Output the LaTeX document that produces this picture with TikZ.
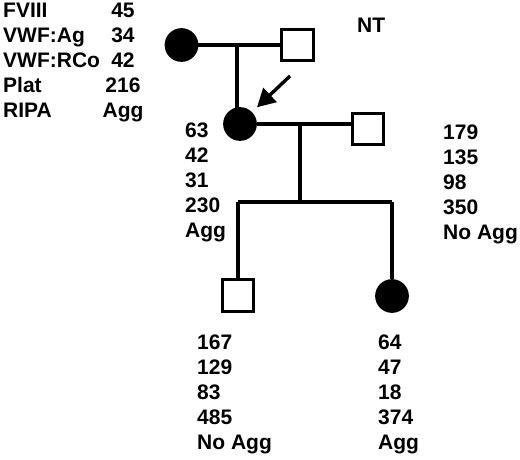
\documentclass[tikz,border=0pt]{standalone}
\usepackage{fontspec}
\setmainfont{Liberation Sans}
\usepackage{tikz}
\usetikzlibrary{arrows.meta, positioning}
\tikzset{
  female/.style={
    circle, draw=black, fill=black, line width=3.2pt,
    minimum size=30.5pt, inner sep=0pt
  },
  male/.style={
    rectangle, draw=black, fill=white, line width=3.2pt,
    minimum size=31.5pt, inner sep=0pt
  },
  line/.style={line width=3.2pt, color=black},
  pointer/.style={-{Triangle[length=18pt,width=19pt]}, line width=3.4pt, shorten >=7pt},
  values/.style={
    inner sep=0pt, align=left,
    font=\fontsize{21}{25}\selectfont\bfseries
  }
}
\begin{document}
\begin{tikzpicture}[x=1pt, y=-1pt]
  \useasboundingbox (0,0) rectangle (520,459);

  % first generation
  \node[female] (gm) at (181.5,45) {};
  \node[male] (gf) at (297.5,45) {};
  \coordinate (gdrop) at (237,45);

  % proband and spouse
  \node[female] (pb) at (240,124) {};
  \node[male] (hb) at (368,129) {};
  \coordinate (sdrop) at (300,124);
  \coordinate (sib) at (300,202);
  \coordinate (tail) at (290,76);

  % children
  \node[male] (c1) at (238,295.5) {};
  \node[female] (c2) at (392,296) {};

  \draw[line] (gm) -- (gf.west);
  \draw[line] (gdrop) -- (gdrop |- pb.center);
  \draw[line] (pb) -- (pb.center -| hb.west);
  \draw[line] (sdrop) -- (sib);
  \draw[line] (c1.north |- sib) -- (c2.center |- sib);
  \draw[line] (c1.north |- sib) -- (c1.north);
  \draw[line] (c2.center |- sib) -- (c2);
  \draw[pointer] (tail) -- (pb.45);

  % lab values
  \node[values, anchor=north west] (labels) at (3,3.3)
    {FVIII\\VWF:Ag\\VWF:RCo\\Plat\\RIPA};
  \node[values, align=center, anchor=north] (gmvals) at (123,3.3)
    {45\\34\\42\\216\\Agg};
  \node[values, anchor=north west] (nt) at (357,17.5) {NT};
  \node[values, anchor=north west] (pbvals) at (185,122.5)
    {63\\42\\31\\230\\Agg};
  \node[values, anchor=north west] (hbvals) at (443,125)
    {179\\135\\98\\350\\No Agg};
  \node[values, anchor=north west] (c1vals) at (197,335)
    {167\\129\\83\\485\\No Agg};
  \node[values, anchor=north west] (c2vals) at (378,335)
    {64\\47\\18\\374\\Agg};
\end{tikzpicture}
\end{document}
